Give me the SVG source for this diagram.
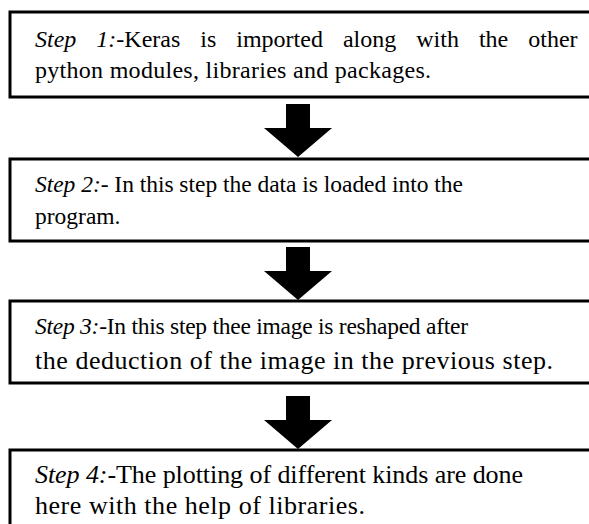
<svg xmlns="http://www.w3.org/2000/svg" width="589" height="524" viewBox="0 0 589 524">
  <style>
    .box { fill: #ffffff; stroke: #000000; stroke-width: 3; }
    .arrow { fill: #000000; }
    .txt { font-family: "Liberation Serif", "Times New Roman", serif; font-size: 23.5px; fill: #000000; }
    .lg { font-size: 26px; }
    .it { font-style: italic; }
  </style>
  <defs>
    <!-- block arrow pointing down, tip at (0,0) -->
    <path id="downArrow" d="M -12 -53 L 12 -53 L 12 -29 L 34 -29 L 0 0 L -34 -29 L -12 -29 Z"/>
  </defs>
  <rect width="589" height="524" fill="#ffffff"/>

  <g id="connectors">
    <use href="#downArrow" class="arrow" x="298" y="157"/>
    <use href="#downArrow" class="arrow" x="298" y="300"/>
    <use href="#downArrow" class="arrow" x="298" y="449"/>
  </g>

  <g id="step1">
    <rect class="box" x="10" y="12" width="600" height="85"/>
    <text class="txt" x="35" y="47" style="font-size:24px" word-spacing="14"><tspan class="it">Step 1:</tspan>-Keras is imported along with the other</text>
    <text class="txt" x="35" y="78" style="font-size:24px" textLength="396" lengthAdjust="spacing">python modules, libraries and packages.</text>
  </g>

  <g id="step2">
    <rect class="box" x="10" y="159" width="600" height="82"/>
    <text class="txt" x="35" y="192" textLength="428" lengthAdjust="spacing"><tspan class="it">Step 2:</tspan>- In this step the data is loaded into the</text>
    <text class="txt" x="35" y="224">program.</text>
  </g>

  <g id="step3">
    <rect class="box" x="10" y="301" width="600" height="82"/>
    <text class="txt" x="35" y="334" textLength="433" lengthAdjust="spacing"><tspan class="it">Step 3:</tspan>-In this step thee image is reshaped after</text>
    <text class="txt lg" x="35" y="369" textLength="518" lengthAdjust="spacing">the deduction of the image in the previous step.</text>
  </g>

  <g id="step4">
    <rect class="box" x="10" y="450" width="600" height="100"/>
    <text class="txt lg" x="35" y="483" textLength="488" lengthAdjust="spacing"><tspan class="it">Step 4:</tspan>-The plotting of different kinds are done</text>
    <text class="txt lg" x="35" y="514" textLength="330" lengthAdjust="spacing">here with the help of libraries.</text>
  </g>
</svg>
